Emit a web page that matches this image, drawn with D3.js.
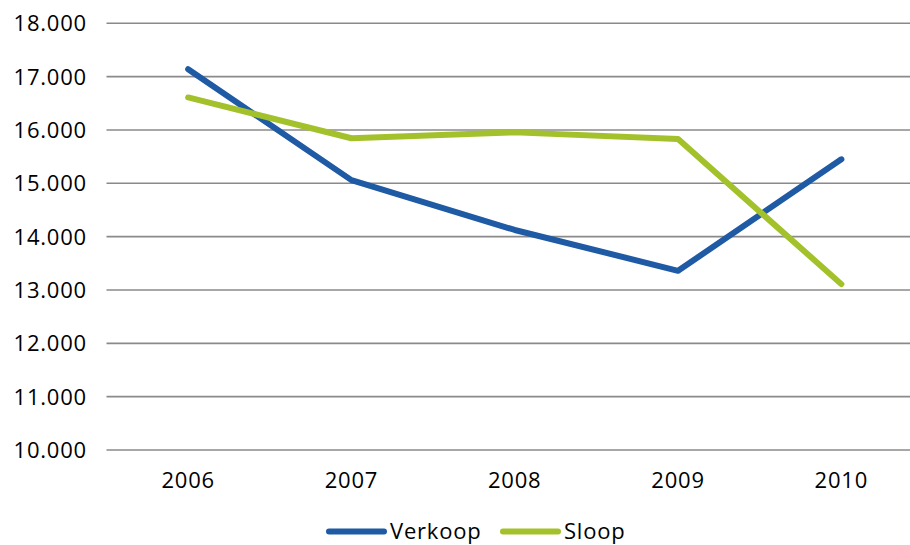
<!DOCTYPE html>
<html>
<head>
<meta charset="utf-8">
<script src="https://cdn.jsdelivr.net/npm/d3@7"></script>
<style>
  body { margin: 0; background: #fff; }
  text { font-family: "Open Sans", sans-serif; fill: #000; }
</style>
</head>
<body>
<div id="chart"></div>
<script>
// data
var years = ["2006", "2007", "2008", "2009", "2010"];
var verkoop = [17140, 15060, 14125, 13360, 15450];
var sloop = [16610, 15845, 15955, 15830, 13110];
var yTicks = [10000, 11000, 12000, 13000, 14000, 15000, 16000, 17000, 18000];
var seriesNames = ["Verkoop", "Sloop"];
var seriesColors = ["#1f5aa5", "#a3c12a"];

var width = 910;
var height = 545;

var svg = d3.select("#chart")
    .append("svg")
    .attr("width", width)
    .attr("height", height);

// x: category bands, plot runs past the right edge like the original
var x = d3.scaleBand()
    .domain(years)
    .range([106.5, 923]);

var y = d3.scaleLinear()
    .domain([10000, 18000])
    .range([450, 23.3]);

var fmt = function(d) { return d3.format(",")(d).replace(",", "."); };

// gridlines
svg.append("g")
    .selectAll("line")
    .data(yTicks)
    .enter()
    .append("line")
    .attr("x1", 106.5)
    .attr("x2", width)
    .attr("y1", function(d) { return y(d); })
    .attr("y2", function(d) { return y(d); })
    .style("stroke", "#8a8a8a")
    .style("stroke-width", 1.6);

// y labels
svg.append("g")
    .selectAll("text")
    .data(yTicks)
    .enter()
    .append("text")
    .attr("x", 87)
    .attr("y", function(d) { return y(d); })
    .attr("dy", "0.36em")
    .attr("text-anchor", "end")
    .style("font-size", "22px")
    .style("letter-spacing", "0.8px")
    .text(fmt);

// x labels
svg.append("g")
    .selectAll("text")
    .data(years)
    .enter()
    .append("text")
    .attr("x", function(d) { return x(d) + x.bandwidth() / 2; })
    .attr("y", 488)
    .attr("text-anchor", "middle")
    .style("font-size", "22px")
    .style("letter-spacing", "0.8px")
    .text(function(d) { return d; });

var line = d3.line()
    .x(function(d, i) { return x(years[i]) + x.bandwidth() / 2; })
    .y(function(d) { return y(d); });

[verkoop, sloop].forEach(function(s, k) {
    svg.append("path")
        .datum(s)
        .attr("d", line)
        .style("fill", "none")
        .style("stroke", seriesColors[k])
        .style("stroke-width", 6)
        .style("stroke-linecap", "round")
        .style("stroke-linejoin", "round");
});

// legend
var legendX = [329, 503];
var legend = svg.append("g");
seriesNames.forEach(function(name, k) {
    legend.append("line")
        .attr("x1", legendX[k])
        .attr("x2", legendX[k] + 55)
        .attr("y1", 531.5)
        .attr("y2", 531.5)
        .style("stroke", seriesColors[k])
        .style("stroke-width", 6)
        .style("stroke-linecap", "round");
    legend.append("text")
        .attr("x", legendX[k] + 61)
        .attr("y", 531.5)
        .attr("dy", "0.36em")
        .style("font-size", "22px")
        .style("letter-spacing", "0.8px")
        .text(name);
});
</script>
</body>
</html>
